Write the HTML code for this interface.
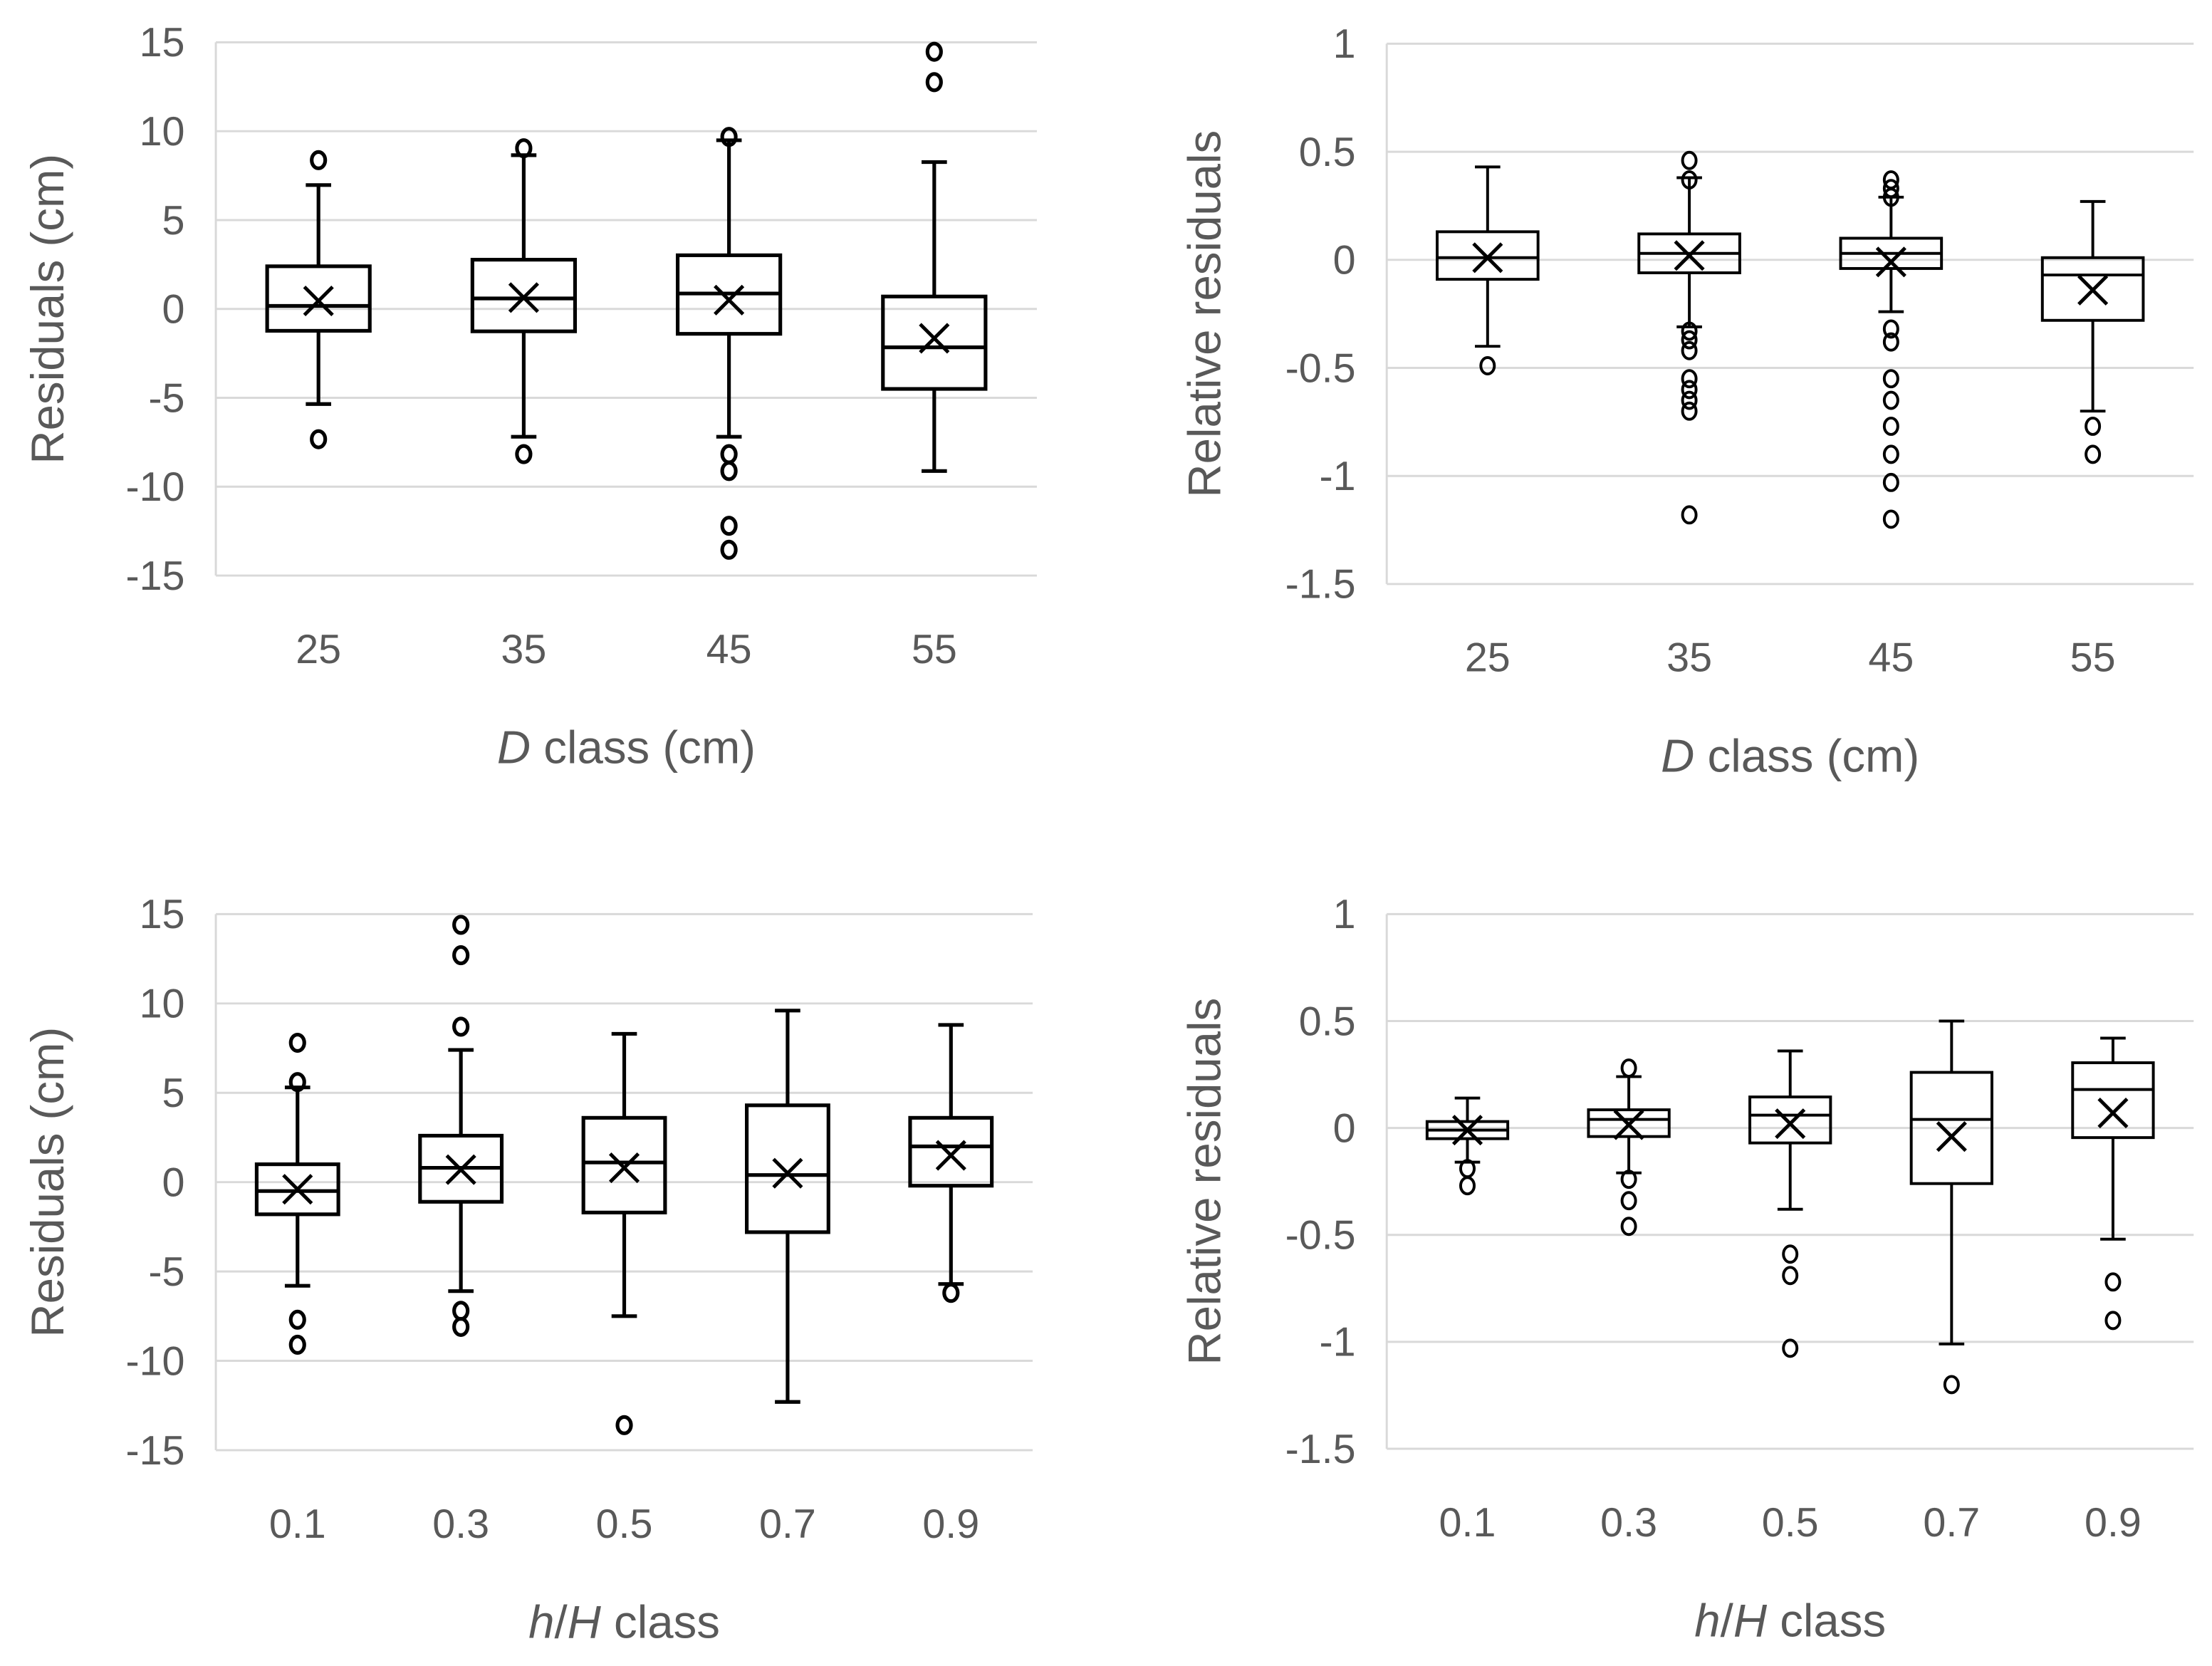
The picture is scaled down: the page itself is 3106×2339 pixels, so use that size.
<!DOCTYPE html>
<html><head><meta charset="utf-8"><style>
html,body{margin:0;padding:0;background:#fff;}
svg{display:block;}
text{font-family:"Liberation Sans",sans-serif;fill:#595959;}
</style></head><body>
<svg id="fig" width="3106" height="2339" viewBox="0 0 1568 1181" preserveAspectRatio="none" xmlns="http://www.w3.org/2000/svg"></svg>
<script>
// Panel A: residuals by D class
const dCats = ["25","35","45","55"];
const aWhiskerHigh = [6.97, 8.65, 9.49, 8.26];
const aQ3 = [2.4, 2.77, 3.02, 0.7];
const aMedian = [0.17, 0.59, 0.87, -2.16];
const aQ1 = [-1.23, -1.26, -1.4, -4.5];
const aWhiskerLow = [-5.35, -7.19, -7.19, -9.12];
const aMean = [0.45, 0.64, 0.5, -1.65];
const aOutliers = [[8.37, -7.33], [9.04, -8.17], [9.68, -8.17, -9.12, -12.2, -13.55], [14.47, 12.76]];
const absTicks = [15, 10, 5, 0, -5, -10, -15];
const absTickLabels = ["15","10","5","0","-5","-10","-15"];

// Panel B: relative residuals by D class
const bWhiskerHigh = [0.43, 0.38, 0.29, 0.27];
const bQ3 = [0.13, 0.12, 0.1, 0.01];
const bMedian = [0.01, 0.03, 0.03, -0.07];
const bQ1 = [-0.09, -0.06, -0.04, -0.28];
const bWhiskerLow = [-0.4, -0.31, -0.24, -0.7];
const bMean = [0.01, 0.02, -0.01, -0.14];
const bOutliers = [[-0.49], [0.46, 0.37, -0.33, -0.37, -0.42, -0.55, -0.6, -0.65, -0.7, -1.18], [0.37, 0.33, 0.29, -0.32, -0.38, -0.55, -0.65, -0.77, -0.9, -1.03, -1.2], [-0.77, -0.9]];
const relTicks = [1, 0.5, 0, -0.5, -1, -1.5];
const relTickLabels = ["1","0.5","0","-0.5","-1","-1.5"];

// Panel C: residuals by h/H class
const hCats = ["0.1","0.3","0.5","0.7","0.9"];
const cWhiskerHigh = [5.3, 7.4, 8.3, 9.6, 8.8];
const cQ3 = [1.0, 2.6, 3.6, 4.3, 3.6];
const cMedian = [-0.5, 0.8, 1.1, 0.4, 2.0];
const cQ1 = [-1.8, -1.1, -1.7, -2.8, -0.2];
const cWhiskerLow = [-5.8, -6.1, -7.5, -12.3, -5.7];
const cMean = [-0.4, 0.7, 0.8, 0.5, 1.5];
const cOutliers = [[7.8, 5.6, -7.7, -9.1], [14.4, 12.7, 8.7, -7.2, -8.1], [-13.6], [], [-6.2]];

// Panel D: relative residuals by h/H class
const dWhiskerHigh = [0.14, 0.24, 0.36, 0.5, 0.42];
const dQ3 = [0.03, 0.085, 0.145, 0.26, 0.305];
const dMedian = [-0.01, 0.04, 0.06, 0.04, 0.18];
const dQ1 = [-0.05, -0.04, -0.07, -0.26, -0.045];
const dWhiskerLow = [-0.16, -0.21, -0.38, -1.01, -0.52];
const dMean = [-0.01, 0.015, 0.02, -0.04, 0.07];
const dOutliers = [[-0.19, -0.27], [0.28, -0.24, -0.34, -0.46], [-0.59, -0.69, -1.03], [-1.2], [-0.72, -0.9]];

const NS = "http://www.w3.org/2000/svg";
const svg = document.getElementById("fig");
function mk(tag, attrs, parent) {
  const e = document.createElementNS(NS, tag);
  for (const k in attrs) e.setAttribute(k, attrs[k]);
  (parent || svg).appendChild(e);
  return e;
}

function panel(cfg) {
  const g = mk("g", {});
  
  
  const yMin = cfg.ticks[cfg.ticks.length - 1], yMax = cfg.ticks[0];
  const yScale = v => cfg.top + (yMax - v) / (yMax - yMin) * (cfg.bottom - cfg.top);
  const n = cfg.cats.length;
  const step = (cfg.right - cfg.left) / n;
  const xScale = i => cfg.left + step * (i + 0.5);
  const bw = step * 0.5;

  cfg.ticks.forEach((t, i) => {
    const y = yScale(t);
    const gl = mk("line", {x1: cfg.left, x2: cfg.right, y1: y, y2: y, stroke: "#d9d9d9", "stroke-width": 1.5}, g);
    
    
    const tl = mk("text", {x: cfg.left - 22, y: y + 10, "text-anchor": "end", "font-size": 29}, g);
    tl.textContent = cfg.tickLabels[i];
    
    
  });
  const ax = mk("line", {x1: cfg.left, x2: cfg.left, y1: cfg.top, y2: cfg.bottom, stroke: "#d9d9d9", "stroke-width": 1.5}, g);
  
  

  cfg.cats.forEach((c, i) => {
    const x = xScale(i);
    const xl = mk("text", {x: x, y: cfg.bottom + 62, "text-anchor": "middle", "font-size": 29}, g);
    xl.textContent = c;
    
    

    const bg = mk("g", {stroke: "#000", "stroke-width": cfg.sw, fill: "none"}, g);
    
    
    const wh = yScale(cfg.wh[i]), q3 = yScale(cfg.q3[i]), md = yScale(cfg.md[i]), q1 = yScale(cfg.q1[i]), wl = yScale(cfg.wl[i]);
    mk("line", {x1: x, x2: x, y1: wh, y2: q3}, bg);
    mk("line", {x1: x, x2: x, y1: q1, y2: wl}, bg);
    mk("line", {x1: x - 9, x2: x + 9, y1: wh, y2: wh}, bg);
    mk("line", {x1: x - 9, x2: x + 9, y1: wl, y2: wl}, bg);
    mk("rect", {x: x - bw / 2, y: q3, width: bw, height: q1 - q3}, bg);
    mk("line", {x1: x - bw / 2, x2: x + bw / 2, y1: md, y2: md}, bg);
    const my = yScale(cfg.mean[i]);
    const mm = mk("path", {d: `M${x-10},${my-10}L${x+10},${my+10}M${x+10},${my-10}L${x-10},${my+10}`, "stroke-width": 2.5}, bg);
    
    
    cfg.out[i].forEach(v => {
      const oc = mk("ellipse", {cx: x, cy: yScale(v), rx: 4.8, ry: 5.8}, bg);
      
      
    });
  });

  const xt = mk("text", {x: (cfg.left + cfg.right) / 2, y: cfg.bottom + 133, "text-anchor": "middle", "font-size": 33}, g);
  
  
  const it = mk("tspan", {"font-style": "italic"}, xt);
  it.textContent = cfg.xItalic;
  if (cfg.xMid) { const sl = mk("tspan", {}, xt); sl.textContent = cfg.xMid; const it2 = mk("tspan", {"font-style": "italic"}, xt); it2.textContent = cfg.xItalic2; }
  const rest = mk("tspan", {}, xt);
  rest.textContent = cfg.xRest;

  const yc = (cfg.top + cfg.bottom) / 2;
  const yt = mk("text", {x: cfg.yTitleX, y: yc, "text-anchor": "middle", "font-size": 33, transform: `rotate(-90 ${cfg.yTitleX} ${yc})`}, g);
  yt.textContent = cfg.yTitle;
  
  
}

panel({name: "panel-residuals-d-class", sw: 2.6, left: 153, right: 735, top: 30, bottom: 408, cats: dCats, ticks: absTicks, tickLabels: absTickLabels,
  wh: aWhiskerHigh, q3: aQ3, md: aMedian, q1: aQ1, wl: aWhiskerLow, mean: aMean, out: aOutliers,
  xItalic: "D", xRest: " class (cm)", yTitle: "Residuals (cm)", yTitleX: 45});
panel({name: "panel-relative-residuals-d-class", sw: 2, left: 983, right: 1555, top: 31, bottom: 414, cats: dCats, ticks: relTicks, tickLabels: relTickLabels,
  wh: bWhiskerHigh, q3: bQ3, md: bMedian, q1: bQ1, wl: bWhiskerLow, mean: bMean, out: bOutliers,
  xItalic: "D", xRest: " class (cm)", yTitle: "Relative residuals", yTitleX: 865});
panel({name: "panel-residuals-hH-class", sw: 2.6, left: 153, right: 732, top: 648, bottom: 1028, cats: hCats, ticks: absTicks, tickLabels: absTickLabels,
  wh: cWhiskerHigh, q3: cQ3, md: cMedian, q1: cQ1, wl: cWhiskerLow, mean: cMean, out: cOutliers,
  xItalic: "h", xMid: "/", xItalic2: "H", xRest: " class", yTitle: "Residuals (cm)", yTitleX: 45});
panel({name: "panel-relative-residuals-hH-class", sw: 2, left: 983, right: 1555, top: 648, bottom: 1027, cats: hCats, ticks: relTicks, tickLabels: relTickLabels,
  wh: dWhiskerHigh, q3: dQ3, md: dMedian, q1: dQ1, wl: dWhiskerLow, mean: dMean, out: dOutliers,
  xItalic: "h", xMid: "/", xItalic2: "H", xRest: " class", yTitle: "Relative residuals", yTitleX: 865});
</script>
</body></html>
